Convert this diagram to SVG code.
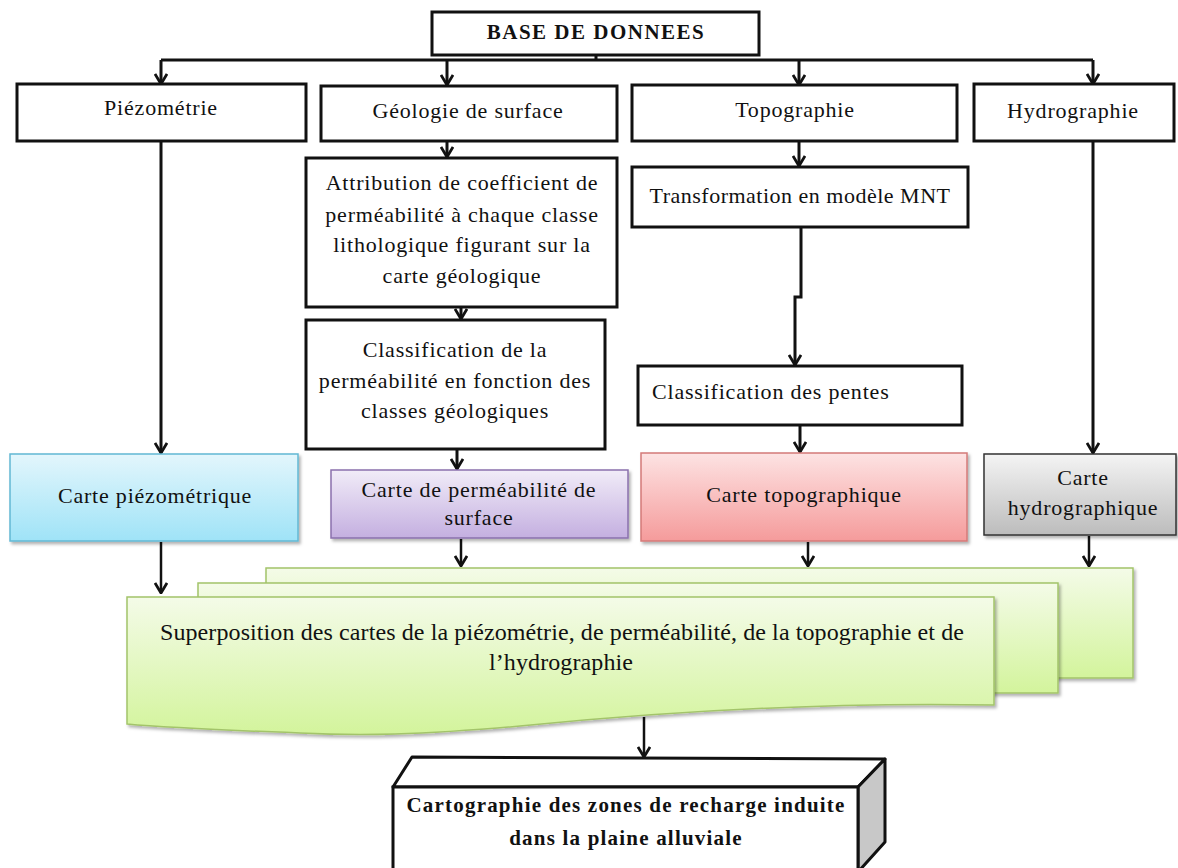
<svg xmlns="http://www.w3.org/2000/svg" width="1178" height="868" viewBox="0 0 1178 868">
<style>
text{font-family:"Liberation Serif","Times New Roman",serif;font-size:22px;letter-spacing:0.8px;fill:#111;text-anchor:middle}
.b{font-weight:bold}
.box{fill:#fff;stroke:#111;stroke-width:3}
.con{fill:none;stroke:#111;stroke-width:3}
.sh{filter:url(#shadow)}
</style>
<defs>
<marker id="ah" viewBox="0 0 12 14" refX="11" refY="7" markerWidth="12" markerHeight="14" markerUnits="userSpaceOnUse" orient="auto">
<path d="M1,1 L11,7 L1,13" fill="none" stroke="#111" stroke-width="2.8"/>
</marker>
<filter id="shadow" x="-5%" y="-5%" width="115%" height="125%">
<feDropShadow dx="2" dy="2.5" stdDeviation="1.5" flood-color="#000" flood-opacity="0.3"/>
</filter>
<linearGradient id="gBlue" x1="0" y1="0" x2="0" y2="1"><stop offset="0" stop-color="#e3f6fc"/><stop offset="1" stop-color="#9fe3f7"/></linearGradient>
<linearGradient id="gPurple" x1="0" y1="0" x2="0" y2="1"><stop offset="0" stop-color="#f1ecf8"/><stop offset="1" stop-color="#c4afe0"/></linearGradient>
<linearGradient id="gRed" x1="0" y1="0" x2="0" y2="1"><stop offset="0" stop-color="#fde3e3"/><stop offset="1" stop-color="#f59b9b"/></linearGradient>
<linearGradient id="gGray" x1="0" y1="0" x2="0" y2="1"><stop offset="0" stop-color="#f4f4f4"/><stop offset="1" stop-color="#bcbcbc"/></linearGradient>
<linearGradient id="gGreen" x1="0" y1="0" x2="0" y2="1"><stop offset="0" stop-color="#f4fbe8"/><stop offset="1" stop-color="#d3f49c"/></linearGradient>
</defs>

<g id="connectors">
<path class="con" d="M596,55 V60 M161,60 H1093"/>
<path class="con" d="M161,60 V84" marker-end="url(#ah)"/>
<path class="con" d="M447,60 V85" marker-end="url(#ah)"/>
<path class="con" d="M799,60 V85" marker-end="url(#ah)"/>
<path class="con" d="M1093,60 V84" marker-end="url(#ah)"/>
<path class="con" d="M161,141 V453" marker-end="url(#ah)"/>
<path class="con" d="M447,141 V157" marker-end="url(#ah)"/>
<path class="con" d="M461,307 V319" marker-end="url(#ah)"/>
<path class="con" d="M457,449 V469" marker-end="url(#ah)"/>
<path class="con" d="M799,141 V166" marker-end="url(#ah)"/>
<path class="con" d="M801,227 V297 H795 V365" marker-end="url(#ah)"/>
<path class="con" d="M800,425 V452" marker-end="url(#ah)"/>
<path class="con" d="M1093,141 V453" marker-end="url(#ah)"/>
<path class="con" d="M161,542 V593" marker-end="url(#ah)" style="stroke-width:2.5"/>
<path class="con" d="M461,539 V566" marker-end="url(#ah)" style="stroke-width:2.5"/>
<path class="con" d="M808,542 V566" marker-end="url(#ah)" style="stroke-width:2.5"/>
<path class="con" d="M1089,536 V566" marker-end="url(#ah)" style="stroke-width:2.5"/>
<path class="con" d="M644,717 V757" marker-end="url(#ah)" style="stroke-width:2.5"/>
</g>

<g id="base">
<rect class="box" x="432" y="12" width="327" height="43"/>
<text class="b" x="596" y="39" style="font-size:21px;letter-spacing:1.5px">BASE DE DONNEES</text>
</g>
<g id="piezometrie">
<rect class="box" x="17" y="84" width="289" height="57"/>
<text x="161" y="115">Piézométrie</text>
</g>
<g id="geologie">
<rect class="box" x="321" y="86" width="296" height="55"/>
<text x="468" y="118">Géologie de surface</text>
</g>
<g id="topographie">
<rect class="box" x="632" y="85" width="325" height="56"/>
<text x="795" y="117">Topographie</text>
</g>
<g id="hydrographie">
<rect class="box" x="974" y="84" width="200" height="57"/>
<text x="1073" y="118">Hydrographie</text>
</g>
<g id="attribution">
<rect class="box" x="306" y="158" width="311" height="149"/>
<text x="462" y="190">Attribution de coefficient de</text>
<text x="462" y="222">perméabilité à chaque classe</text>
<text x="462" y="252">lithologique figurant sur la</text>
<text x="462" y="283">carte géologique</text>
</g>
<g id="classification">
<rect class="box" x="306" y="320" width="299" height="129"/>
<text x="455" y="357">Classification de la</text>
<text x="455" y="388">perméabilité en fonction des</text>
<text x="455" y="418">classes géologiques</text>
</g>
<g id="transformation">
<rect class="box" x="632" y="167" width="336" height="60"/>
<text x="800" y="203" style="letter-spacing:0.5px">Transformation en modèle MNT</text>
</g>
<g id="pentes">
<rect class="box" x="638" y="366" width="324" height="59"/>
<text x="652" y="399" style="text-anchor:start">Classification des pentes</text>
</g>

<g id="carte-piezo">
<rect class="sh" x="10" y="454" width="288" height="87" fill="url(#gBlue)" stroke="#62b8d4" stroke-width="1.5"/>
<text x="155" y="503">Carte piézométrique</text>
</g>
<g id="carte-perm">
<rect class="sh" x="331" y="470" width="297" height="68" fill="url(#gPurple)" stroke="#8a70ad" stroke-width="1.5"/>
<text x="479" y="497">Carte de perméabilité de</text>
<text x="479" y="525">surface</text>
</g>
<g id="carte-topo">
<rect class="sh" x="641" y="453" width="326" height="88" fill="url(#gRed)" stroke="#d47a78" stroke-width="1.5"/>
<text x="804" y="502">Carte topographique</text>
</g>
<g id="carte-hydro">
<rect class="sh" x="984" y="454" width="192" height="81" fill="url(#gGray)" stroke="#333" stroke-width="1.5"/>
<text x="1083" y="485">Carte</text>
<text x="1083" y="515">hydrographique</text>
</g>

<g id="superposition">
<rect class="sh" x="266" y="568" width="867" height="110" fill="url(#gGreen)" stroke="#a3c46a" stroke-width="1.5"/>
<rect class="sh" x="198" y="583" width="860" height="110" fill="url(#gGreen)" stroke="#a3c46a" stroke-width="1.5"/>
<path class="sh" d="M127,597 H994 V705 C830,702 660,712 520,726 C420,735 360,736 300,733 C220,730 170,728 127,724 Z" fill="url(#gGreen)" stroke="#a3c46a" stroke-width="1.5"/>
<text x="562" y="640" style="font-size:24px;letter-spacing:0.1px">Superposition des cartes de la piézométrie, de perméabilité, de la topographie et de</text>
<text x="561" y="670" style="font-size:24px;letter-spacing:0.1px">l’hydrographie</text>
</g>

<g id="cartographie">
<polygon points="393,787 412,757 885,759 858,787" fill="#fff" stroke="#111" stroke-width="3" stroke-linejoin="round"/>
<polygon points="858,787 885,759 885,842 858,872" fill="#c8c8c8" stroke="#111" stroke-width="3" stroke-linejoin="round"/>
<rect x="393" y="787" width="465" height="90" fill="#fff" stroke="#111" stroke-width="3"/>
<text class="b" x="626" y="812" style="font-size:21px;letter-spacing:1.2px">Cartographie des zones de recharge induite</text>
<text class="b" x="626" y="845" style="font-size:21px;letter-spacing:1.2px">dans la plaine alluviale</text>
</g>
</svg>
